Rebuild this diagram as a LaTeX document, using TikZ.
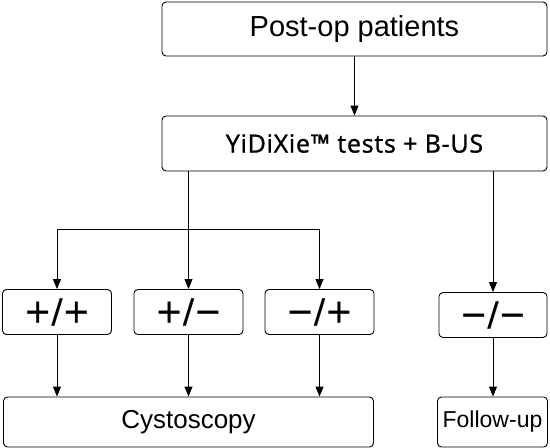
\documentclass[tikz,border=0pt]{standalone}
\usepackage{fontspec}
\setmainfont{Liberation Sans}
\newfontfamily\yh[FakeBold=1.2,LetterSpace=3]{Open Sans}
\newfontfamily\dv[FakeBold=0.6]{DejaVu Sans}
\usetikzlibrary{arrows.meta}
\begin{document}
\begin{tikzpicture}[x=1pt,y=-1pt,
  box/.style={draw,line width=0.9pt,rounded corners=4pt,inner sep=0pt,anchor=center},
  sign/.style={box,minimum width=109pt,minimum height=45pt,font=\dv\fontsize{33}{35}\selectfont},
  arr/.style={line width=0.9pt,-{Triangle[length=10pt,width=8pt]}}]
\useasboundingbox (0,0) rectangle (550,448);
\node[box,minimum width=385pt,minimum height=54pt,font=\fontsize{29}{31}\selectfont] (top) at (354.5,29) {Post-op patients};
\node[box,minimum width=385pt,minimum height=55pt,font=\yh\fontsize{25}{27}\selectfont] (mid) at (354.5,143.5) {YiDiXie™ tests + B-US};
\node[sign] (pp) at (57,312) {+/+};
\node[sign] (pm) at (188.5,312) {+/−};
\node[sign] (mp) at (319.5,312) {−/+};
\node[sign,minimum width=108pt] (mm) at (493,315) {−/−};
\node[box,minimum width=370pt,minimum height=50pt,font=\fontsize{26}{28}\selectfont] (cys) at (188.5,422) {Cystoscopy};
\node[box,minimum width=110pt,minimum height=50pt,font=\fontsize{23}{25}\selectfont] (fu) at (492.5,422) {Follow-up};
\draw[arr] (top.south) -- (mid.north);
\coordinate (j) at (188.5,229);
\draw[line width=0.9pt] (mid.south -| pm.north) -- (j);
\draw[arr] (j) -| (pp.north);
\draw[arr] (j) -| (mp.north);
\draw[arr] (j) -- (pm.north);
\draw[arr] (mid.south -| mm.north) -- (mm.north);
\draw[arr] (pp.south) -- (pp.south |- cys.north);
\draw[arr] (pm.south) -- (pm.south |- cys.north);
\draw[arr] (mp.south) -- (mp.south |- cys.north);
\draw[arr] (mm.south) -- (mm.south |- fu.north);
\end{tikzpicture}
\end{document}
